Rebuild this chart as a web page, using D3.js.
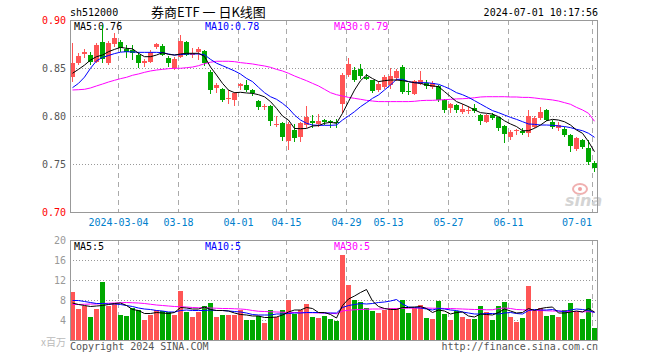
<!DOCTYPE html>
<html><head><meta charset="utf-8">
<script src="https://cdn.jsdelivr.net/npm/d3@7"></script>
<style>body{margin:0;background:#fff}svg{display:block}</style>
</head><body><svg id="c" width="660" height="360"></svg>
<script>
const dates = ["2024-02-21","2024-02-22","2024-02-23","2024-02-26","2024-02-27","2024-02-28","2024-02-29",
"2024-03-01","2024-03-04","2024-03-05","2024-03-06","2024-03-07","2024-03-08","2024-03-11","2024-03-12","2024-03-13","2024-03-14","2024-03-15","2024-03-18","2024-03-19","2024-03-20","2024-03-21","2024-03-22","2024-03-25","2024-03-26","2024-03-27","2024-03-28","2024-03-29",
"2024-04-01","2024-04-02","2024-04-03","2024-04-08","2024-04-09","2024-04-10","2024-04-11","2024-04-12","2024-04-15","2024-04-16","2024-04-17","2024-04-18","2024-04-19","2024-04-22","2024-04-23","2024-04-24","2024-04-25","2024-04-26","2024-04-29","2024-04-30",
"2024-05-06","2024-05-07","2024-05-08","2024-05-09","2024-05-10","2024-05-13","2024-05-14","2024-05-15","2024-05-16","2024-05-17","2024-05-20","2024-05-21","2024-05-22","2024-05-23","2024-05-24","2024-05-27","2024-05-28","2024-05-29","2024-05-30","2024-05-31",
"2024-06-03","2024-06-04","2024-06-05","2024-06-06","2024-06-07","2024-06-11","2024-06-12","2024-06-13","2024-06-14","2024-06-17","2024-06-18","2024-06-19","2024-06-20","2024-06-21","2024-06-24","2024-06-25","2024-06-26","2024-06-27","2024-06-28",
"2024-07-01"];

const open  = [0.841,0.855,0.865,0.864,0.856,0.877,0.855,0.875,0.877,0.870,0.869,0.864,0.855,0.856,0.872,0.873,0.860,0.850,0.861,0.877,0.864,0.867,0.868,0.846,0.829,0.828,0.818,0.817,0.831,0.832,0.827,0.816,0.809,0.810,0.791,0.793,0.774,0.785,0.778,0.791,0.795,0.792,0.796,0.795,0.794,0.812,0.843,0.848,0.849,0.841,0.837,0.827,0.830,0.832,0.840,0.851,0.826,0.823,0.833,0.834,0.830,0.831,0.817,0.808,0.811,0.804,0.805,0.808,0.801,0.794,0.801,0.799,0.790,0.778,0.784,0.784,0.782,0.789,0.798,0.806,0.794,0.788,0.786,0.780,0.766,0.775,0.767,0.751];
const high  = [0.876,0.866,0.870,0.867,0.876,0.895,0.878,0.886,0.879,0.874,0.874,0.867,0.859,0.869,0.876,0.875,0.862,0.861,0.884,0.878,0.871,0.872,0.869,0.848,0.834,0.829,0.827,0.825,0.834,0.837,0.828,0.817,0.813,0.811,0.800,0.794,0.794,0.792,0.794,0.810,0.801,0.802,0.797,0.796,0.797,0.845,0.860,0.851,0.854,0.844,0.837,0.836,0.843,0.850,0.849,0.853,0.834,0.838,0.847,0.837,0.836,0.832,0.818,0.814,0.812,0.813,0.810,0.813,0.802,0.802,0.803,0.799,0.791,0.785,0.786,0.787,0.806,0.800,0.809,0.807,0.796,0.794,0.789,0.781,0.778,0.776,0.775,0.753];
const low   = [0.835,0.853,0.860,0.853,0.855,0.855,0.853,0.872,0.867,0.860,0.858,0.850,0.851,0.855,0.870,0.862,0.851,0.848,0.860,0.862,0.860,0.858,0.852,0.823,0.824,0.815,0.813,0.810,0.827,0.825,0.821,0.806,0.806,0.790,0.789,0.774,0.765,0.773,0.773,0.787,0.787,0.789,0.791,0.788,0.788,0.803,0.841,0.835,0.839,0.837,0.824,0.825,0.828,0.828,0.836,0.823,0.822,0.822,0.832,0.828,0.828,0.815,0.803,0.803,0.803,0.802,0.802,0.803,0.791,0.793,0.796,0.784,0.772,0.775,0.780,0.780,0.778,0.788,0.796,0.795,0.786,0.784,0.778,0.763,0.764,0.766,0.749,0.742];
const close = [0.855,0.863,0.867,0.856,0.874,0.859,0.876,0.881,0.871,0.867,0.866,0.855,0.857,0.867,0.875,0.864,0.855,0.859,0.878,0.864,0.866,0.870,0.855,0.827,0.832,0.817,0.819,0.824,0.833,0.827,0.824,0.809,0.810,0.795,0.792,0.778,0.792,0.777,0.793,0.799,0.793,0.795,0.794,0.794,0.793,0.843,0.854,0.838,0.842,0.839,0.826,0.833,0.841,0.842,0.847,0.825,0.825,0.836,0.837,0.831,0.834,0.817,0.806,0.813,0.806,0.807,0.806,0.805,0.795,0.801,0.798,0.788,0.781,0.783,0.785,0.782,0.800,0.798,0.804,0.796,0.789,0.791,0.780,0.769,0.777,0.768,0.752,0.746];

const ma5  = [0.8445,0.8486,0.853,0.8583,0.8618,0.8635,0.867,0.8694,0.8715,0.8705,0.870,0.8653,0.8618,0.8618,0.8635,0.866,0.8642,0.8635,0.8646,0.8653,0.8653,0.8653,0.862,0.851,0.8427,0.834,0.827,0.8243,0.8247,0.824,0.8236,0.8222,0.820,0.815,0.808,0.800,0.7958,0.787,0.7868,0.787,0.7896,0.790,0.7924,0.7934,0.7924,0.8028,0.815,0.827,0.8368,0.8427,0.839,0.8358,0.8368,0.8375,0.8375,0.8368,0.8358,0.8347,0.834,0.8323,0.8313,0.8306,0.8254,0.8202,0.815,0.8125,0.8097,0.8063,0.8035,0.8028,0.802,0.7993,0.795,0.7917,0.789,0.7847,0.7847,0.7872,0.7906,0.795,0.7965,0.7958,0.794,0.7906,0.7854,0.782,0.7733,0.7628];
const ma10 = [0.8295,0.834,0.8405,0.8497,0.8575,0.861,0.863,0.865,0.8665,0.867,0.8667,0.8663,0.8663,0.8663,0.8663,0.866,0.8646,0.8635,0.8639,0.8646,0.8646,0.8646,0.8638,0.859,0.855,0.8524,0.8497,0.847,0.8437,0.8392,0.8358,0.8299,0.8243,0.8201,0.8174,0.8132,0.808,0.801,0.7958,0.7924,0.7906,0.7903,0.7903,0.7903,0.7906,0.7958,0.800,0.8045,0.8097,0.8139,0.8184,0.8219,0.8271,0.8323,0.8382,0.8382,0.8358,0.8347,0.8347,0.8347,0.834,0.833,0.8306,0.8278,0.8243,0.8222,0.8194,0.816,0.8125,0.809,0.8056,0.8035,0.801,0.7986,0.7965,0.7941,0.7917,0.7913,0.7906,0.7906,0.7903,0.7896,0.789,0.7879,0.7861,0.7847,0.782,0.7778];
const ma30 = [0.8271,0.8274,0.8278,0.8292,0.8313,0.8333,0.8354,0.8372,0.8389,0.8403,0.8424,0.8438,0.8455,0.8469,0.8479,0.8486,0.8493,0.8497,0.8497,0.8503,0.851,0.8524,0.8545,0.856,0.857,0.857,0.857,0.8566,0.8556,0.8549,0.8542,0.8531,0.8521,0.8507,0.8486,0.8469,0.8445,0.8417,0.8392,0.8368,0.834,0.8313,0.8278,0.8243,0.8222,0.8208,0.8194,0.8184,0.8174,0.8163,0.8156,0.815,0.815,0.815,0.815,0.815,0.815,0.8153,0.816,0.8163,0.8163,0.8167,0.817,0.8174,0.8178,0.818,0.8184,0.819,0.8198,0.8201,0.8201,0.8201,0.8201,0.8198,0.8198,0.8194,0.8194,0.8188,0.818,0.8174,0.8167,0.8156,0.8139,0.8122,0.809,0.8063,0.8028,0.7945];

const volume = [9.6,6.3,6.9,4.7,6.3,11.6,6.9,7.2,5.0,4.9,6.5,6.1,4.0,5.0,6.1,5.9,5.6,5.0,9.9,5.7,4.7,5.6,6.9,7.5,4.7,5.0,5.0,5.0,6.0,4.0,4.0,4.9,3.5,6.0,4.7,6.0,8.0,5.3,6.0,7.3,4.7,4.4,4.9,4.2,3.8,17.0,11.1,8.1,7.6,6.5,5.9,5.5,6.1,6.5,6.5,8.1,5.5,6.5,7.0,4.5,4.2,7.9,5.3,4.0,5.9,4.7,4.2,4.2,6.9,5.7,4.0,6.9,7.7,4.7,3.6,4.5,10.8,5.9,6.5,4.9,5.0,4.7,6.1,7.5,5.6,4.2,8.3,2.4];
const volMa5  = [7.4,7.1,6.9,6.7,6.8,6.9,7.1,7.3,7.4,6.9,6.1,5.9,5.3,5.3,5.5,5.4,5.3,5.5,6.5,6.4,6.2,6.2,6.6,6.1,5.9,5.9,5.8,5.4,5.1,5.0,4.8,4.8,4.5,4.5,4.6,5.0,5.6,6.0,6.0,6.5,6.3,5.5,5.5,5.1,4.4,6.9,8.2,8.8,9.5,10.1,7.8,6.7,6.3,6.1,6.1,6.5,6.5,6.6,6.7,6.3,5.5,6.0,5.8,5.2,5.5,5.6,4.8,4.6,5.2,5.1,5.0,5.5,6.2,5.8,5.4,5.5,6.3,5.9,6.3,6.5,6.6,5.4,5.4,5.6,5.8,5.6,6.3,5.6];
const volMa10 = [7.9,7.9,7.7,7.5,7.3,7.3,7.2,7.2,7.1,6.9,6.7,6.4,6.2,6.1,5.9,5.8,5.6,5.6,5.9,6.0,5.9,5.9,5.9,6.0,5.9,5.9,5.8,5.7,5.6,5.4,5.1,5.0,5.0,5.0,5.2,5.2,5.3,5.4,5.4,5.5,5.5,5.5,5.4,5.4,5.4,6.5,6.9,7.1,7.3,7.2,7.3,7.5,7.6,7.8,8.1,7.2,6.6,6.5,6.4,6.2,6.0,6.3,6.2,6.0,5.9,5.6,5.4,5.2,5.2,5.3,5.3,5.2,5.4,5.5,5.3,5.2,5.9,6.1,6.0,6.0,6.1,5.8,5.7,6.0,6.2,6.1,5.9,5.5];
const volMa30 = [7.1,7.1,7.15,7.2,7.2,7.3,7.35,7.4,7.45,7.5,7.45,7.4,7.3,7.15,7.0,6.9,6.8,6.7,6.65,6.6,6.5,6.45,6.45,6.4,6.35,6.3,6.3,6.25,6.2,6.1,5.9,5.75,5.7,5.65,5.6,5.55,5.5,5.5,5.5,5.45,5.45,5.4,5.4,5.35,5.25,5.8,5.95,6.05,6.1,6.15,6.2,6.2,6.25,6.25,6.3,6.35,6.35,6.4,6.4,6.4,6.35,6.35,6.3,6.3,6.25,6.2,6.15,6.1,6.1,6.05,6.05,6.3,6.4,6.3,6.1,6.05,6.0,5.95,5.9,5.85,5.8,5.8,5.75,5.7,5.7,5.65,5.65,5.6];

const tickDates  = ["2024-03-04","2024-03-18","2024-04-01","2024-04-15","2024-04-29","2024-05-13","2024-05-27","2024-06-11","2024-07-01"];
const tickLabels = ["2024-03-04","03-18","04-01","04-15","04-29","05-13","05-27","06-11","07-01"];
const priceTicks = [0.90,0.85,0.80,0.75,0.70];
const priceTickLabels = ["0.90","0.85","0.80","0.75","0.70"];
const priceTickColors = ["#ff0000","#555555","#555555","#555555","#ff0000"];
const volTicks = [20,16,12,8,4];

const RED = "#ff5555", GREEN = "#00a800";
const MONO = "'DejaVu Sans Mono', monospace";
const svg = d3.select("#c");
const L = 70, R = 598, PT = 20, PB = 212, VT = 240, VB = 340;

const x = d3.scaleBand().domain(dates).range([L, R]).padding(0);
const y = d3.scaleLinear().domain([0.70, 0.90]).range([PB, PT]);
const yv = d3.scaleLinear().domain([0, 20]).range([VB, VT]);
const cx = d => x(d) + 2.5;

const defs = svg.append("defs");
defs.append("clipPath").attr("id","cp").append("rect").attr("x",L).attr("y",PT).attr("width",R-L).attr("height",PB-PT);
defs.append("clipPath").attr("id","cv").append("rect").attr("x",L).attr("y",VT).attr("width",R-L).attr("height",VB-VT);

// header
svg.append("text").attr("x",L).attr("y",16).attr("font-family",MONO).attr("font-size",10).attr("fill","#000").text("sh512000");
svg.append("text").attr("x",151).attr("y",17).attr("font-family","'Noto Sans CJK SC', sans-serif").attr("font-size",13).attr("fill","#000").attr("xml:space","preserve").text("券商ETF 一 日K线图");
svg.append("text").attr("x",R).attr("y",16).attr("text-anchor","end").attr("font-family",MONO).attr("font-size",10).attr("fill","#000").text("2024-07-01 10:17:56");

// grid
const grid = svg.append("g").attr("shape-rendering","crispEdges");
[0.85,0.80,0.75].forEach(v => grid.append("line").attr("x1",L).attr("x2",R).attr("y1",Math.round(y(v))+0.5).attr("y2",Math.round(y(v))+0.5).attr("stroke","#999").attr("stroke-dasharray","1,2"));
[16,12,8,4].forEach(v => grid.append("line").attr("x1",L).attr("x2",R).attr("y1",Math.round(yv(v))+0.5).attr("y2",Math.round(yv(v))+0.5).attr("stroke","#999").attr("stroke-dasharray","1,2"));
tickDates.forEach(d => {
  const gx = x(d) + 0.5;
  grid.append("line").attr("x1",gx).attr("x2",gx).attr("y1",PT).attr("y2",PB).attr("stroke","#aaa").attr("stroke-dasharray","5,4");
  grid.append("line").attr("x1",gx).attr("x2",gx).attr("y1",VT).attr("y2",VB).attr("stroke","#aaa").attr("stroke-dasharray","5,4");
});

// axis labels
priceTicks.forEach((v,i) => svg.append("text").attr("x",66).attr("y",y(v)+3.5).attr("text-anchor","end").attr("font-family",MONO).attr("font-size",10).attr("fill",priceTickColors[i]).text(priceTickLabels[i]));
volTicks.forEach(v => svg.append("text").attr("x",66).attr("y",yv(v)+3.5).attr("text-anchor","end").attr("font-family",MONO).attr("font-size",10).attr("fill","#999").text(v));
svg.append("text").attr("x",66).attr("y",346).attr("text-anchor","end").attr("font-family","'Noto Sans CJK SC', sans-serif").attr("font-size",10).attr("fill","#bbb").text("x百万");
tickDates.forEach((d,i) => {
  let px = x(d) + 0.5;
  const w = tickLabels[i].length * 6.02;
  if (px + w/2 > R - 6) px = R - 6 - w/2;
  svg.append("text").attr("x",px).attr("y",226).attr("text-anchor","middle").attr("font-family",MONO).attr("font-size",10).attr("fill","#0080cc").text(tickLabels[i]);
});

// legends
const leg = (lx, ly, t, c) => svg.append("text").attr("x",lx).attr("y",ly).attr("font-family",MONO).attr("font-size",10).attr("fill",c).text(t);
leg(74,30,"MA5:0.76","#000"); leg(205,30,"MA10:0.78","#0000ff"); leg(334,30,"MA30:0.79","#ff00ff");
leg(74,250,"MA5:5","#000"); leg(205,250,"MA10:5","#0000ff"); leg(334,250,"MA30:5","#ff00ff");

// watermark
const wm = svg.append("g");
wm.append("ellipse").attr("cx",580).attr("cy",189).attr("rx",7).attr("ry",5).attr("fill","none").attr("stroke","#f0b0b0").attr("stroke-width",2);
wm.append("circle").attr("cx",580).attr("cy",189).attr("r",2).attr("fill","#f0a0a0");
wm.append("text").attr("x",565).attr("y",206).attr("font-family","'DejaVu Sans', sans-serif").attr("font-style","italic").attr("font-weight","bold").attr("font-size",16).attr("fill","#d4d4d4").text("sina");

// candles
const cg = svg.append("g").attr("clip-path","url(#cp)").attr("shape-rendering","crispEdges");
dates.forEach((d,i) => {
  const up = close[i] >= open[i];
  const col = up ? RED : GREEN;
  cg.append("line").attr("x1",x(d)+2.5).attr("x2",x(d)+2.5).attr("y1",y(high[i])).attr("y2",y(low[i])).attr("stroke",col);
  const top = y(Math.max(open[i],close[i])), bot = y(Math.min(open[i],close[i]));
  cg.append("rect").attr("x",x(d)).attr("y",top).attr("width",5).attr("height",Math.max(1,bot-top)).attr("fill",col);
});

// volume bars
const vg = svg.append("g").attr("clip-path","url(#cv)").attr("shape-rendering","crispEdges");
dates.forEach((d,i) => {
  const col = close[i] >= open[i] ? RED : GREEN;
  vg.append("rect").attr("x",x(d)).attr("y",yv(volume[i])).attr("width",5).attr("height",VB-yv(volume[i])).attr("fill",col);
});

// MA lines
const lineP = arr => d3.line().x((d,i)=>cx(dates[i])).y(d=>y(d))(arr);
const lineV = arr => d3.line().x((d,i)=>cx(dates[i])).y(d=>yv(d))(arr);
const mg = svg.append("g").attr("clip-path","url(#cp)").attr("fill","none");
mg.append("path").attr("d",lineP(ma30)).attr("stroke","#ff00ff");
mg.append("path").attr("d",lineP(ma10)).attr("stroke","#0000ff");
mg.append("path").attr("d",lineP(ma5)).attr("stroke","#000");
const mv = svg.append("g").attr("clip-path","url(#cv)").attr("fill","none");
mv.append("path").attr("d",lineV(volMa30)).attr("stroke","#ff00ff");
mv.append("path").attr("d",lineV(volMa10)).attr("stroke","#0000ff");
mv.append("path").attr("d",lineV(volMa5)).attr("stroke","#000");

// borders
const bg = svg.append("g").attr("fill","none").attr("stroke","#999").attr("shape-rendering","crispEdges");
bg.append("rect").attr("x",L+0.5).attr("y",PT+0.5).attr("width",R-L-1).attr("height",PB-PT);
bg.append("rect").attr("x",L+0.5).attr("y",VT+0.5).attr("width",R-L-1).attr("height",VB-VT);

// footer
svg.append("text").attr("x",L).attr("y",350).attr("font-family",MONO).attr("font-size",10).attr("fill","#555").text("Copyright 2024 SINA.COM");
svg.append("text").attr("x",R).attr("y",350).attr("text-anchor","end").attr("font-family",MONO).attr("font-size",10).attr("fill","#555").text("http://finance.sina.com.cn");
</script></body></html>
